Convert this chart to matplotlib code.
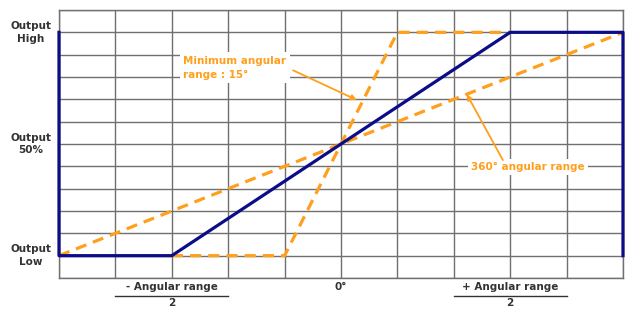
import matplotlib.pyplot as plt

# grid units: x 0..10 (0 deg at 5), y 0..12 (low=1, 50%=6, high=11)
blue_x = [0, 0, 2, 8, 10, 10]
blue_y = [11, 1, 1, 11, 11, 1]
full_x = [0, 10]
full_y = [1, 11]
min_x = [2, 4, 6, 8]
min_y = [1, 1, 11, 11]

y_labels = ['Output\nHigh', 'Output\n50%', 'Output\nLow']
y_label_pos = [11, 6, 1]
x_labels = ['- Angular range', '0°', '+ Angular range']
x_label_pos = [2, 5, 8]

orange = '#ff9f1c'
navy = '#0c0c88'

fig = plt.figure(figsize=(6.25, 3.09), dpi=100)
ax = fig.add_axes([59 / 625, 31 / 309, 564 / 625, 268 / 309])
ax.set_xlim(0, 10)
ax.set_ylim(0, 12)
ax.set_xticks(range(11))
ax.set_yticks(range(13))
ax.grid(True, color='#707070', lw=1.0)
ax.tick_params(length=0, labelbottom=False, labelleft=False)
for s in ax.spines.values():
    s.set_color('#707070')
    s.set_linewidth(1.0)

ax.plot(full_x, full_y, color=orange, lw=2.3, ls=(0, (3.5, 2.2)), zorder=3)
ax.plot(min_x, min_y, color=orange, lw=2.3, ls=(0, (3.5, 2.2)), zorder=3)
ax.plot(blue_x, blue_y, color=navy, lw=2.3, zorder=4, clip_on=False)

# annotations
box = dict(facecolor='white', edgecolor='none', pad=2.5)
arrow = dict(arrowstyle='-|>', color=orange, lw=1.3, shrinkA=0, shrinkB=0,
             mutation_scale=8)
ax.text(2.2, 9.42, 'Minimum angular\nrange : 15°', color=orange, fontsize=7.5,
        fontweight='bold', ha='left', va='center', linespacing=1.5,
        bbox=box, zorder=5)
ax.annotate('', xy=(5.28, 7.97), xytext=(4.15, 9.3), arrowprops=arrow, zorder=5)
ax.text(8.32, 4.97, '360° angular range', color=orange, fontsize=7.5,
        fontweight='bold', ha='center', va='center', bbox=box, zorder=5)
ax.annotate('', xy=(7.23, 8.23), xytext=(7.87, 5.28), arrowprops=arrow, zorder=5)

for lab, y in zip(y_labels, y_label_pos):
    ax.text(-0.5, y, lab, ha='center', va='center', fontsize=7.5,
            fontweight='bold', color='#333333', linespacing=1.35, clip_on=False)

for lab, x in zip(x_labels, x_label_pos):
    ax.text(x, -0.4, lab, ha='center', va='center', fontsize=7.5,
            fontweight='bold', color='#333333', clip_on=False)
    if lab != '0°':
        ax.plot([x - 1, x + 1], [-0.8, -0.8], color='#333333', lw=1, clip_on=False)
        ax.text(x, -1.12, '2', ha='center', va='center', fontsize=7.5,
                fontweight='bold', color='#333333', clip_on=False)

fig.savefig('out.png', dpi=100)
